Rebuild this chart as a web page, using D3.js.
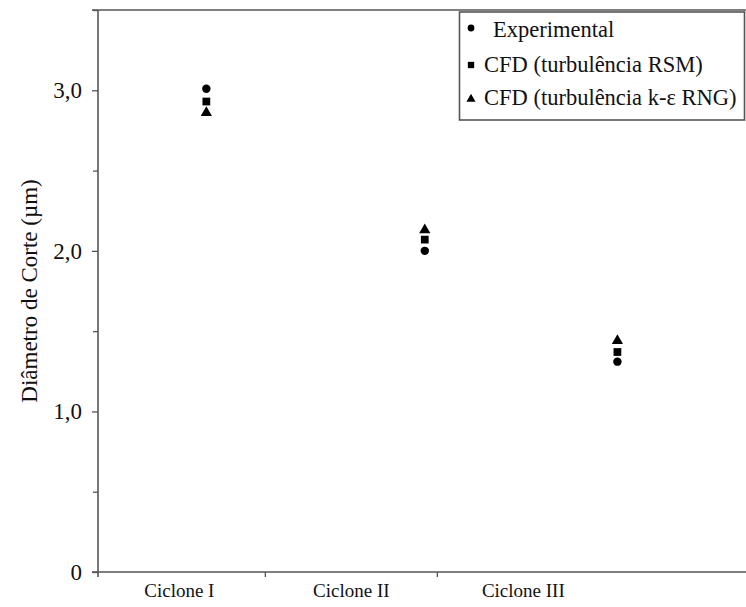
<!DOCTYPE html>
<html>
<head>
<meta charset="utf-8">
<script src="https://cdn.jsdelivr.net/npm/d3@7"></script>
<style>
  body { margin: 0; background: #fff; }
  text { font-family: 'Times New Roman', 'Liberation Serif', serif; fill: #111; }
</style>
</head>
<body>
<div id="chart"></div>
<script>
// valores
var categorias = ['Ciclone I', 'Ciclone II', 'Ciclone III']
var posicoes = [1.16, 2.43, 3.55]
var experimental = [3.01, 2.00, 1.31]
var cfdRSM = [2.93, 2.07, 1.37]
var cfdRNG = [2.86, 2.13, 1.44]
var yTicks = [0, 1, 2, 3]
var yTickLabels = ['0', '1,0', '2,0', '3,0']
var yMinorTicks = [0.5, 1.5, 2.5, 3.5]
var seriesNomes = ['Experimental', 'CFD (turbulência RSM)', 'CFD (turbulência k-ε RNG)']

var width = 746
var height = 607
var axisColor = '#555'

var svg = d3.select('#chart').append('svg')
    .attr('width', width)
    .attr('height', height)

var x = d3.scaleLinear()
    .domain([0.53, 4.3])
    .range([98, 746.4])

var y = d3.scaleLinear()
    .domain([0, 3.5])
    .range([572, 10])

// minor ticks on y
svg.append('g')
    .attr('transform', 'translate(98,0)')
    .call(d3.axisLeft(y).tickValues(yMinorTicks).tickSize(5).tickFormat(''))
    .call(function(g) { g.select('.domain').remove() })

// y axis
svg.append('g')
    .attr('class', 'y-axis')
    .attr('transform', 'translate(98,0)')
    .call(d3.axisLeft(y).tickValues(yTicks).tickSize(6).tickPadding(10)
        .tickFormat(function(d, i) { return yTickLabels[i] }))
    .call(function(g) { g.select('.domain').remove() })
    .selectAll('text')
    .style('font-size', '23px')

// x axis separators
svg.append('g')
    .attr('transform', 'translate(0,572)')
    .call(d3.axisBottom(x).tickValues([1.5, 2.5]).tickSize(5).tickFormat(''))
    .call(function(g) { g.select('.domain').remove() })

// x labels
svg.append('g')
    .attr('transform', 'translate(0,572)')
    .call(d3.axisBottom(x).tickValues([1, 2, 3]).tickSize(0).tickPadding(12)
        .tickFormat(function(d, i) { return categorias[i] }))
    .call(function(g) { g.select('.domain').remove() })
    .selectAll('text')
    .style('font-size', '19px')

svg.selectAll('.tick line').attr('stroke', axisColor).attr('stroke-width', 1.3)

// frame lines
svg.append('line')
    .attr('x1', 98).attr('x2', 98)
    .attr('y1', y(3.5)).attr('y2', y(0) + 5)
    .attr('stroke', axisColor).attr('stroke-width', 1.6)
svg.append('line')
    .attr('x1', 92).attr('x2', width)
    .attr('y1', y(0)).attr('y2', y(0))
    .attr('stroke', axisColor).attr('stroke-width', 1.6)
svg.append('line')
    .attr('x1', 92).attr('x2', width)
    .attr('y1', y(3.5)).attr('y2', y(3.5))
    .attr('stroke', axisColor).attr('stroke-width', 1.6)

// axis title
svg.append('text')
    .attr('transform', 'translate(37,' + y(1.75) + ') rotate(-90)')
    .attr('text-anchor', 'middle')
    .style('font-size', '23px')
    .text('Diâmetro de Corte (µm)')

var symCircle = d3.symbol().type(d3.symbolCircle).size(56)
var symSquare = d3.symbol().type(d3.symbolSquare).size(60)
var symTriangle = d3.symbol().type(d3.symbolTriangle).size(55)

var series = [
    { values: experimental, sym: symCircle },
    { values: cfdRSM, sym: symSquare },
    { values: cfdRNG, sym: symTriangle }
]

series.forEach(function(s) {
    svg.append('g')
        .selectAll('path')
        .data(s.values)
        .enter().append('path')
        .attr('d', s.sym)
        .attr('transform', function(d, i) {
            return 'translate(' + x(posicoes[i]) + ',' + y(d) + ')'
        })
        .attr('fill', '#000')
})

// legend
var legend = svg.append('g').attr('class', 'legend')
legend.append('rect')
    .attr('x', 459.5).attr('y', 12)
    .attr('width', 285).attr('height', 108)
    .attr('fill', '#fff')
    .attr('stroke', axisColor).attr('stroke-width', 1.6)

var legendRows = [
    { sym: d3.symbol().type(d3.symbolCircle).size(36), y: 28, tx: 493, ty: 37 },
    { sym: d3.symbol().type(d3.symbolSquare).size(40), y: 65, tx: 484, ty: 72 },
    { sym: d3.symbol().type(d3.symbolTriangle).size(36), y: 99, tx: 484, ty: 105 }
]

legendRows.forEach(function(r, i) {
    legend.append('path')
        .attr('d', r.sym)
        .attr('transform', 'translate(471,' + r.y + ')')
        .attr('fill', '#000')
    legend.append('text')
        .attr('x', r.tx).attr('y', r.ty)
        .style('font-size', '22.5px')
        .text(seriesNomes[i])
})
</script>
</body>
</html>
